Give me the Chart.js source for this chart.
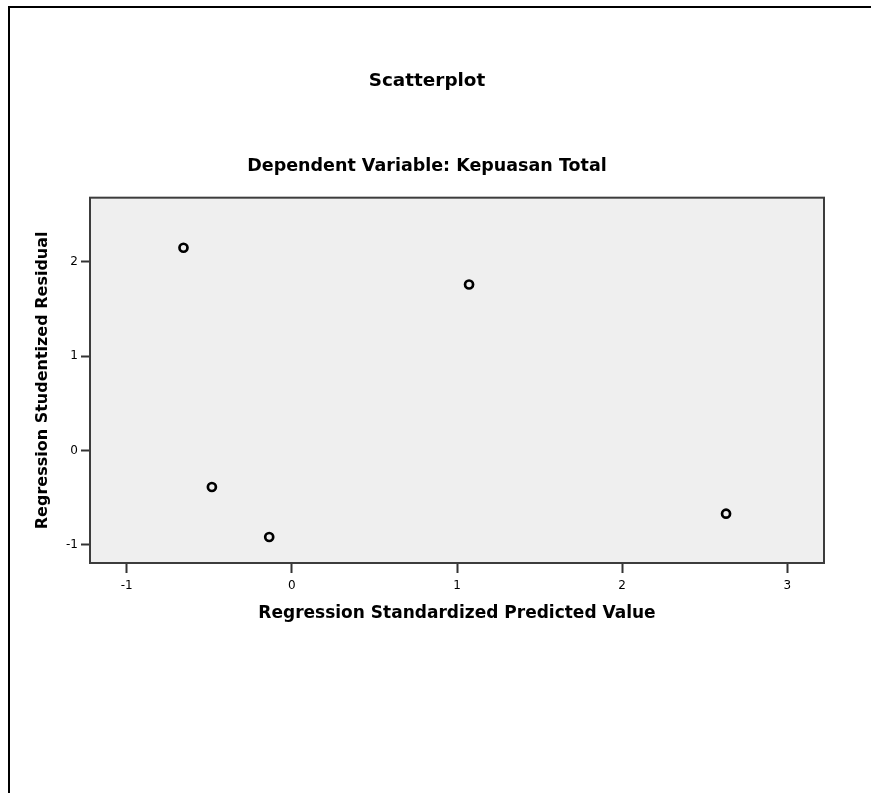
<!DOCTYPE html>
<html>
<head>
<meta charset="utf-8">
<title>Scatterplot</title>
<script src="https://cdn.jsdelivr.net/npm/chart.js@4/dist/chart.umd.min.js"></script>
<style>
  html, body { margin: 0; padding: 0; background: #fff; overflow: hidden; }
  body { width: 871px; height: 793px; position: relative; }
  #frame {
    position: absolute; left: 8px; top: 6px; right: 0; bottom: 0;
    border-top: 2px solid #000; border-left: 2px solid #000;
  }
  #chart { position: absolute; left: 30px; top: 0; }
</style>
</head>
<body>
<div id="frame"></div>
<canvas id="chart" width="841" height="793"></canvas>
<script>
// values
const predicted = [-0.656, 1.073, -0.484, -0.137, 2.629];
const residual = [2.150, 1.760, -0.388, -0.918, -0.671];
const xTicks = [-1, 0, 1, 2, 3];
const yTicks = [-1, 0, 1, 2];
const xRange = [-1.222, 3.222];
const yRange = [-1.194, 2.681];

const FONT = '"DejaVu Sans", "Liberation Sans", Arial, sans-serif';

// grey plot background + dark frame round the chart area
const plotFrame = {
  id: 'plotFrame',
  beforeDraw(chart) {
    const { ctx, chartArea: a } = chart;
    ctx.save();
    ctx.fillStyle = '#efefef';
    ctx.fillRect(a.left, a.top, a.right - a.left, a.bottom - a.top);
    ctx.restore();
  },
  afterDraw(chart) {
    const { ctx, chartArea: a } = chart;
    ctx.save();
    ctx.strokeStyle = '#3c3c3c';
    ctx.lineWidth = 2;
    ctx.strokeRect(a.left, a.top, a.right - a.left, a.bottom - a.top);
    ctx.restore();
  }
};

const points = predicted.map((x, i) => ({ x: x, y: residual[i] }));

new Chart(document.getElementById('chart'), {
  type: 'scatter',
  data: {
    datasets: [{
      data: points,
      pointStyle: 'circle',
      pointRadius: 4,
      pointHoverRadius: 4,
      borderWidth: 2.7,
      borderColor: '#000',
      backgroundColor: 'rgba(0,0,0,0)'
    }]
  },
  options: {
    responsive: false,
    animation: false,
    devicePixelRatio: 1,
    events: [],
    layout: { padding: { left: 0, right: 47, top: 0, bottom: 0 } },
    plugins: {
      legend: { display: false },
      tooltip: { enabled: false },
      title: {
        display: true,
        text: 'Scatterplot',
        color: '#000',
        font: { family: FONT, size: 18.4, weight: 'bold', lineHeight: 1.2 },
        padding: { top: 70.5, bottom: 0 }
      },
      subtitle: {
        display: true,
        text: 'Dependent Variable: Kepuasan Total',
        color: '#000',
        font: { family: FONT, size: 17.5, weight: 'bold', lineHeight: 1.2 },
        padding: { top: 63.1, bottom: 21 }
      }
    },
    scales: {
      x: {
        type: 'linear',
        position: 'bottom',
        min: xRange[0],
        max: xRange[1],
        afterBuildTicks: axis => { axis.ticks = xTicks.map(v => ({ value: v })); },
        afterFit: axis => { axis.height = 230; },
        ticks: {
          color: '#000',
          padding: 6,
          maxRotation: 0,
          font: { family: FONT, size: 12 },
          callback: v => String(v)
        },
        grid: {
          drawOnChartArea: false,
          drawTicks: true,
          tickLength: 10,
          tickWidth: 2,
          tickColor: '#333'
        },
        border: { display: false },
        title: {
          display: true,
          text: 'Regression Standardized Predicted Value',
          color: '#000',
          font: { family: FONT, size: 17, weight: 'bold', lineHeight: 1.2 },
          padding: { top: 0, bottom: 169.5 }
        }
      },
      y: {
        type: 'linear',
        position: 'left',
        min: yRange[0],
        max: yRange[1],
        afterBuildTicks: axis => { axis.ticks = yTicks.map(v => ({ value: v })); },
        afterFit: axis => { axis.width = 60; },
        ticks: {
          color: '#000',
          padding: 3,
          font: { family: FONT, size: 12 },
          callback: v => String(v)
        },
        grid: {
          drawOnChartArea: false,
          drawTicks: true,
          tickLength: 9,
          tickWidth: 2,
          tickColor: '#333'
        },
        border: { display: false },
        title: {
          display: true,
          text: 'Regression Studentized Residual',
          color: '#000',
          font: { family: FONT, size: 16, weight: 'bold', lineHeight: 1.2 },
          padding: { top: 3.5, bottom: 0 }
        }
      }
    }
  },
  plugins: [plotFrame]
});
</script>
</body>
</html>
